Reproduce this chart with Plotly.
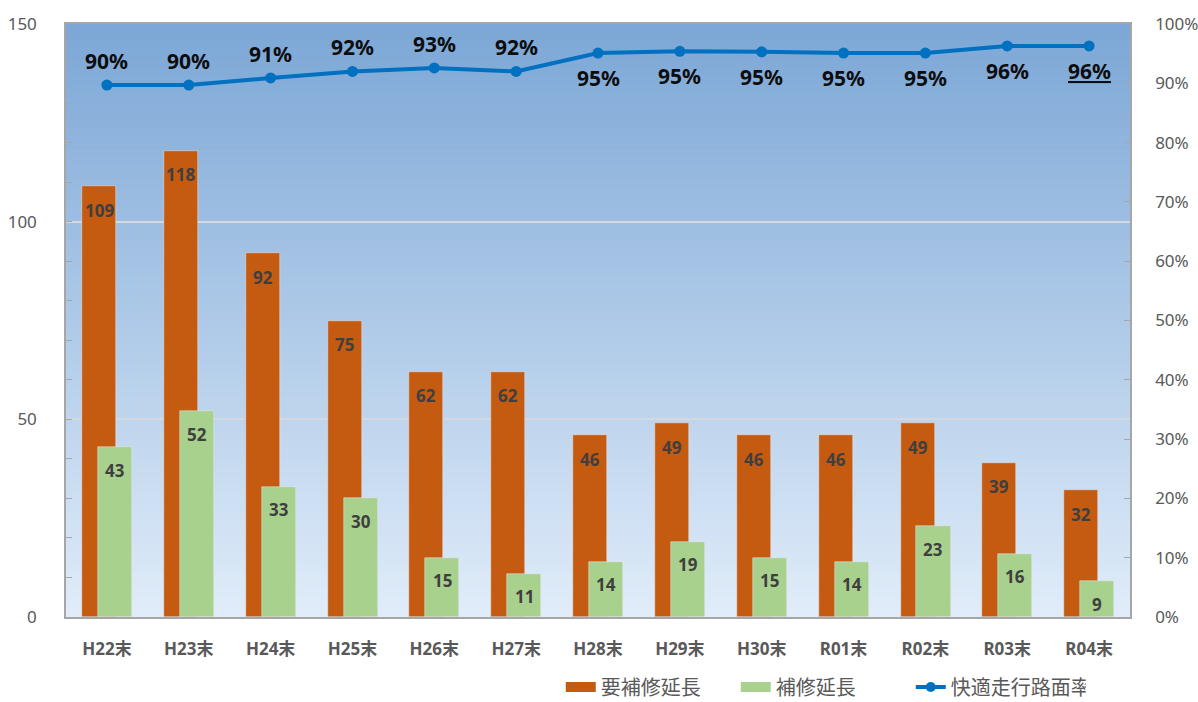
import plotly.graph_objects as go

categories = ["H22末", "H23末", "H24末", "H25末", "H26末", "H27末", "H28末",
              "H29末", "H30末", "R01末", "R02末", "R03末", "R04末"]
need_repair = [109, 118, 92, 75, 62, 62, 46, 49, 46, 46, 49, 39, 32]
repaired = [43, 52, 33, 30, 15, 11, 14, 19, 15, 14, 23, 16, 9]
comfort_rate = [89.7, 89.7, 90.9, 92.0, 92.6, 92.0, 95.1, 95.4, 95.3, 95.1, 95.1, 96.3, 96.3]
rate_labels = ["90%", "90%", "91%", "92%", "93%", "92%", "95%", "95%", "95%",
               "95%", "95%", "96%", "<u>96%</u>"]
label_above = [True] * 6 + [False] * 7

FONT = "Noto Sans, Noto Sans CJK JP, sans-serif"
GRAY = "#595959"
ORANGE = "#C55A11"
GREEN = "#A9D18E"
BLUE = "#0070C0"
xs = list(range(len(categories)))
BW = 0.416
OFF_O = -0.304
OFF_G = -0.109

fig = go.Figure()

# gradient background strips
n = 80
top = (124, 167, 214)
bot = (224, 236, 249)
for i in range(n):
    t = i / (n - 1)
    c = tuple(round(top[k] + (bot[k] - top[k]) * t) for k in range(3))
    fig.add_shape(type="rect", xref="paper", yref="paper",
                  x0=0, x1=1, y0=max(0, 1 - (i + 1) / n - 0.004), y1=1 - i / n,
                  fillcolor="rgb(%d,%d,%d)" % c, line_width=0, layer="below")

fig.add_trace(go.Bar(
    x=xs, y=need_repair, name="要補修延長", marker_color=ORANGE,
    width=BW, offset=OFF_O, showlegend=False,
))
fig.add_trace(go.Bar(
    x=xs, y=repaired, name="補修延長", marker_color=GREEN,
    width=BW, offset=OFF_G, showlegend=False,
))
fig.add_trace(go.Scatter(
    x=xs, y=comfort_rate, yaxis="y2", name="快適走行路面率",
    mode="lines+markers", line=dict(color=BLUE, width=4),
    marker=dict(size=11, color=BLUE), showlegend=False, cliponaxis=False,
))

# legend proxies
fig.add_trace(go.Scatter(x=[None], y=[None], mode="lines", name="要補修延長",
                         line=dict(color=ORANGE, width=14)))
fig.add_trace(go.Scatter(x=[None], y=[None], mode="lines", name="補修延長",
                         line=dict(color=GREEN, width=14)))
fig.add_trace(go.Scatter(x=[None], y=[None], mode="lines+markers", name="快適走行路面率",
                         line=dict(color=BLUE, width=4), marker=dict(size=10, color=BLUE)))

annotations = []
for i, v in enumerate(need_repair):
    annotations.append(dict(x=i + OFF_O + BW / 2, y=v, xref="x", yref="y", text=str(v),
                            showarrow=False, yshift=-24,
                            font=dict(family=FONT, size=17, color="#3f3f3f", weight="bold")))
for i, v in enumerate(repaired):
    annotations.append(dict(x=i + OFF_G + BW / 2, y=v, xref="x", yref="y", text=str(v),
                            showarrow=False, yshift=-23,
                            font=dict(family=FONT, size=17, color="#3f3f3f", weight="bold")))
for i, v in enumerate(comfort_rate):
    annotations.append(dict(x=i, y=v, xref="x", yref="y2", text=rate_labels[i],
                            showarrow=False, yshift=24 if label_above[i] else -25,
                            font=dict(family=FONT, size=21, color="#0d0d0d", weight="bold")))

fig.update_layout(
    width=1198, height=702,
    margin=dict(l=66, r=68, t=24, b=85, autoexpand=False),
    paper_bgcolor="white", plot_bgcolor="rgba(0,0,0,0)",
    barmode="overlay", bargap=0,
    font=dict(family=FONT, color=GRAY),
    showlegend=True,
    legend=dict(orientation="h", x=0.465, xanchor="left", y=-0.118, yanchor="middle",
                font=dict(size=20, color=GRAY), bgcolor="rgba(0,0,0,0)",
                traceorder="normal", entrywidth=130, entrywidthmode="pixels"),
    annotations=annotations,
    xaxis=dict(
        tickmode="array", tickvals=xs, ticktext=categories,
        range=[-0.5, len(categories) - 0.5],
        tickfont=dict(size=17, color=GRAY, weight="bold"),
        showline=True, linecolor="#a6a6a6", linewidth=1.5, mirror=True,
        showgrid=False, ticks="", ticklabelstandoff=16,
    ),
    yaxis=dict(
        range=[0, 150], dtick=50, tick0=0,
        showgrid=True, gridcolor="#d4d9df", gridwidth=1.5,
        ticks="inside", ticklen=6, tickcolor="#a6a6a6",
        minor=dict(dtick=10, ticks="inside", ticklen=6, tickcolor="#a6a6a6", showgrid=False),
        showline=True, linecolor="#a6a6a6", linewidth=1.5,
        tickfont=dict(size=17, color=GRAY), ticklabelstandoff=24,
        zeroline=False,
    ),
    yaxis2=dict(
        overlaying="y", side="right", range=[0, 100], dtick=10,
        ticksuffix="%", showgrid=False, zeroline=False,
        ticks="inside", ticklen=6, tickcolor="#a6a6a6",
        showline=True, linecolor="#a6a6a6", linewidth=1.5,
        tickfont=dict(size=17, color=GRAY), ticklabelstandoff=20,
    ),
)

fig.write_html("out.html", config={"displayModeBar": False},
               post_script="document.body.style.margin='0px';document.body.style.overflow='hidden';")
